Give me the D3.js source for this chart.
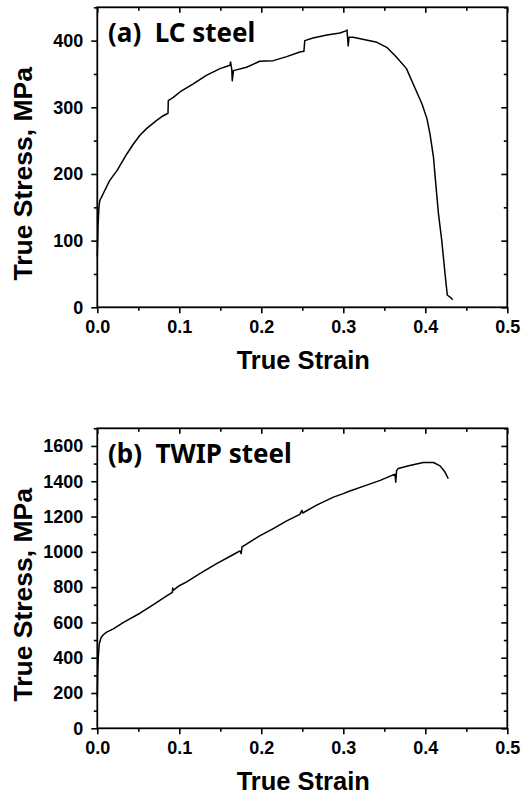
<!DOCTYPE html>
<html>
<head>
<meta charset="utf-8">
<script src="https://cdn.jsdelivr.net/npm/d3@7"></script>
<style>
  body { margin: 0; background: #fff; }
  svg { display: block; }
  .tick text { font-family: "Liberation Sans", Arial, sans-serif; font-weight: bold; font-size: 18px; fill: #000; }
  .axis path, .axis line { stroke: #000; stroke-width: 1.6; }
</style>
</head>
<body>
<div id="chart"></div>
<script>
const width = 522, height = 795;

// LC steel: true strain / true stress (MPa)
const lcStrain = [0, 0.001, 0.002, 0.003, 0.007, 0.015, 0.024, 0.036, 0.044, 0.052, 0.060, 0.072, 0.080, 0.0846,
  0.0862, 0.0866, 0.0927, 0.1008, 0.117, 0.133, 0.1496, 0.1618, 0.1625, 0.1640, 0.1646, 0.166, 0.182, 0.198, 0.2146,
  0.231, 0.247, 0.252, 0.253, 0.263, 0.28, 0.296, 0.304, 0.3045, 0.306, 0.307, 0.312, 0.328, 0.341, 0.353, 0.365,
  0.377, 0.387, 0.396, 0.402, 0.4057, 0.41, 0.412, 0.416, 0.42, 0.424, 0.4268, 0.432, 0.4333];
const lcStress = [76, 125, 150, 160, 170, 190, 205, 230, 245, 258, 268, 280, 287, 290,
  291, 310, 315, 323, 335, 348, 358, 363, 368, 357, 340, 355, 360, 369, 370,
  376, 383, 384, 400, 404, 408.5, 411.5, 415, 416, 392, 405, 405, 401, 397.5, 390, 375,
  358, 330, 305, 283, 260, 225, 196, 141, 101, 51, 18.5, 13.5, 11];

// TWIP steel
const twipStrain = [0, 0.0006, 0.0012, 0.0024, 0.0045, 0.0073, 0.0114, 0.0195, 0.032, 0.052, 0.068, 0.0846,
  0.0915, 0.0920, 0.0925, 0.1, 0.109, 0.125, 0.1455, 0.166, 0.174, 0.1755, 0.1765, 0.178, 0.198, 0.2146, 0.231,
  0.247, 0.2495, 0.2505, 0.2675, 0.288, 0.3, 0.308, 0.3285, 0.345, 0.363, 0.3640, 0.3650, 0.367, 0.381, 0.3976,
  0.41, 0.418, 0.424, 0.428];
const twipStress = [178, 330, 404, 479, 513, 530, 545, 563, 600, 652, 700, 750,
  770, 795, 782, 808, 830, 876, 933, 985, 1005, 990, 1030, 1032, 1090, 1132, 1175,
  1212, 1235, 1220, 1265, 1310, 1330, 1345, 1378, 1405, 1440, 1395, 1460, 1472, 1489, 1506,
  1506, 1487, 1452, 1414];

const panels = [
  { title: "(a)  LC steel", strain: lcStrain, stress: lcStress, top: 7.3, bottom: 307.3,
    yMax: 450, yMajor: d3.range(0, 401, 100), yMinor: d3.range(50, 451, 100) },
  { title: "(b)  TWIP steel", strain: twipStrain, stress: twipStress, top: 428.3, bottom: 728.3,
    yMax: 1700, yMajor: d3.range(0, 1601, 200), yMinor: d3.range(100, 1701, 200) }
];

const xMajor = d3.range(0, 0.51, 0.1), xMinor = [0.05, 0.15, 0.25, 0.35, 0.45];
const left = 97.3, right = 507.3;

const svg = d3.select("#chart").append("svg")
  .attr("width", width).attr("height", height)
  .attr("viewBox", [0, 0, width, height]);

for (let p of panels) {
  let x = d3.scaleLinear().domain([0, 0.5]).range([left, right]);
  let y = d3.scaleLinear().domain([0, p.yMax]).range([p.bottom, p.top]);

  // frame
  svg.append("rect")
    .attr("x", left).attr("y", p.top)
    .attr("width", right - left).attr("height", p.bottom - p.top)
    .attr("fill", "none").attr("stroke", "#000").attr("stroke-width", 1.8);

  // bottom axis, ticks outward
  svg.append("g").attr("class", "axis")
    .attr("transform", `translate(0,${p.bottom})`)
    .call(d3.axisBottom(x).tickValues(xMajor).tickSize(6).tickPadding(7).tickFormat(d3.format(".1f")))
    .call(g => g.select(".domain").remove());
  svg.append("g").attr("class", "axis")
    .attr("transform", `translate(0,${p.bottom})`)
    .call(d3.axisBottom(x).tickValues(xMinor).tickSize(3.5).tickFormat(""))
    .call(g => g.select(".domain").remove());

  // left axis
  svg.append("g").attr("class", "axis")
    .attr("transform", `translate(${left},0)`)
    .call(d3.axisLeft(y).tickValues(p.yMajor).tickSize(6).tickPadding(8).tickFormat(d3.format("d")))
    .call(g => g.select(".domain").remove());
  svg.append("g").attr("class", "axis")
    .attr("transform", `translate(${left},0)`)
    .call(d3.axisLeft(y).tickValues(p.yMinor).tickSize(3.5).tickFormat(""))
    .call(g => g.select(".domain").remove());

  // mirrored ticks on top and right, pointing inward
  svg.append("g").attr("class", "axis")
    .attr("transform", `translate(0,${p.top})`)
    .call(d3.axisTop(x).tickValues(xMajor).tickSize(-5.5).tickFormat(""))
    .call(g => g.select(".domain").remove());
  svg.append("g").attr("class", "axis")
    .attr("transform", `translate(0,${p.top})`)
    .call(d3.axisTop(x).tickValues(xMinor).tickSize(-3.5).tickFormat(""))
    .call(g => g.select(".domain").remove());
  svg.append("g").attr("class", "axis")
    .attr("transform", `translate(${right},0)`)
    .call(d3.axisRight(y).tickValues(p.yMajor).tickSize(-6).tickFormat(""))
    .call(g => g.select(".domain").remove());
  svg.append("g").attr("class", "axis")
    .attr("transform", `translate(${right},0)`)
    .call(d3.axisRight(y).tickValues(p.yMinor).tickSize(-3.5).tickFormat(""))
    .call(g => g.select(".domain").remove());

  let line = d3.line()
    .x((d, i) => x(p.strain[i]))
    .y((d, i) => y(p.stress[i]));

  svg.append("path")
    .datum(p.stress)
    .attr("fill", "none")
    .attr("stroke", "#000")
    .attr("stroke-width", 1.5)
    .attr("stroke-linejoin", "round")
    .attr("d", line);

  // panel title
  svg.append("text")
    .attr("x", 108).attr("y", p.top + 35)
    .attr("xml:space", "preserve")
    .style("white-space", "pre")
    .attr("font-family", "'Noto Sans', sans-serif")
    .attr("font-weight", 700)
    .attr("font-size", "26px")
    .text(p.title);

  // axis labels
  svg.append("text")
    .attr("x", (left + right) / 2 + 1)
    .attr("y", p.bottom + 62)
    .attr("text-anchor", "middle")
    .attr("font-family", "'Liberation Sans', Arial, sans-serif")
    .attr("font-weight", 700)
    .attr("font-size", "25.5px")
    .text("True Strain");

  svg.append("text")
    .attr("transform", `translate(32,${(p.top + p.bottom) / 2 + 16.5}) rotate(-90)`)
    .attr("text-anchor", "middle")
    .attr("font-family", "'Liberation Sans', Arial, sans-serif")
    .attr("font-weight", 700)
    .attr("font-size", "26.5px")
    .text("True Stress, MPa");
}
</script>
</body>
</html>
